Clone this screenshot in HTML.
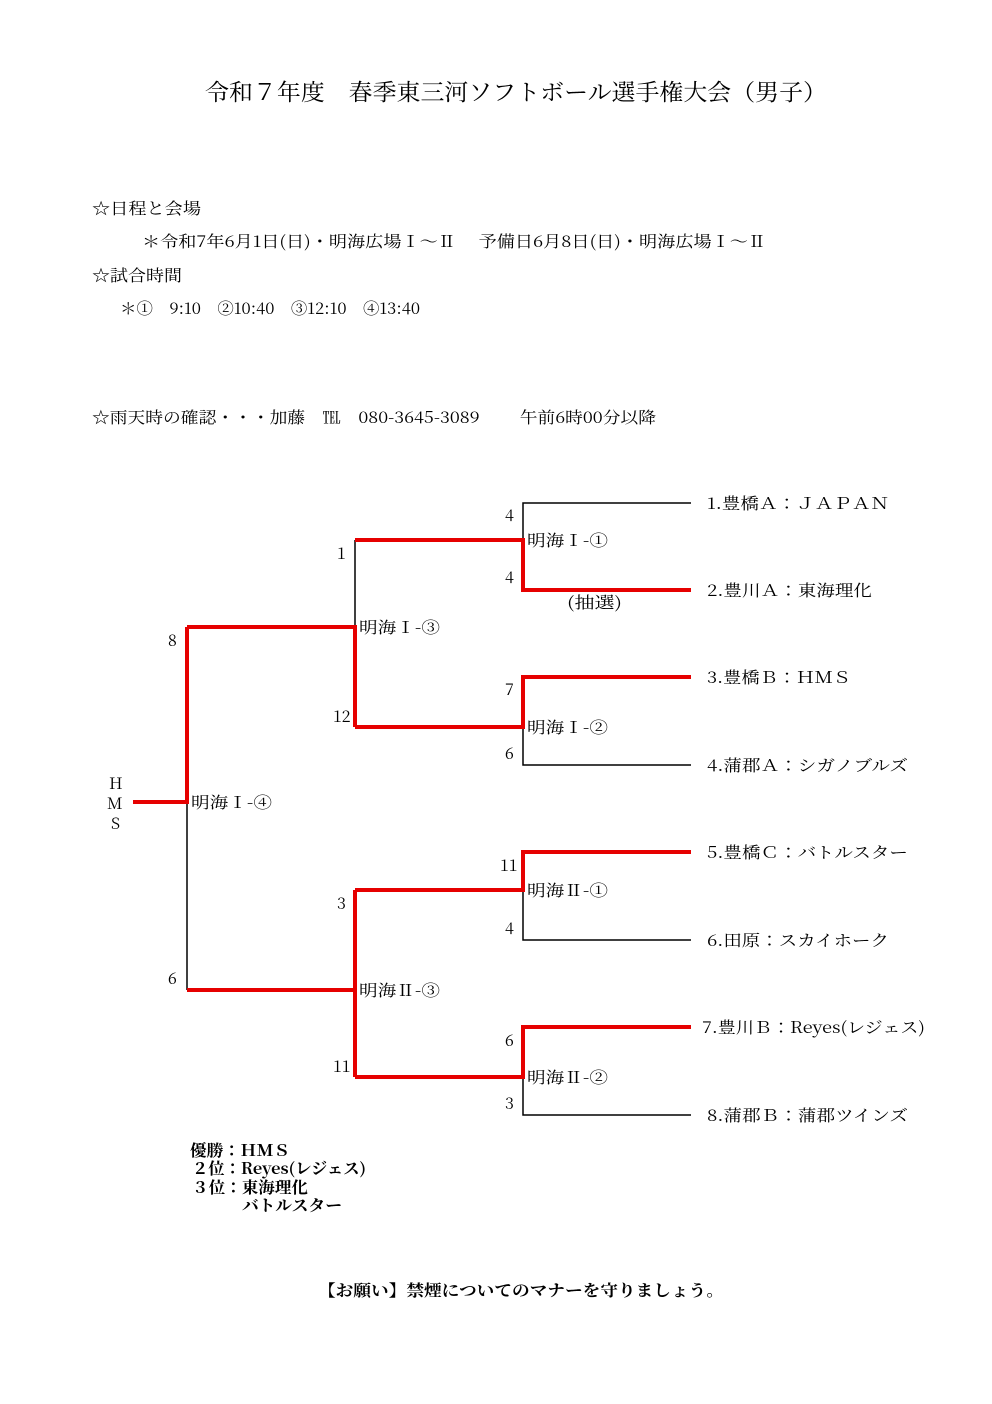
<!DOCTYPE html>
<html><head><meta charset="utf-8"><style>
body{margin:0;background:#fff}
svg{display:block}
text{font-family:"Noto Serif CJK JP","Liberation Serif",serif;fill:#000}
</style></head><body>
<svg width="992" height="1404" viewBox="0 0 992 1404" xmlns="http://www.w3.org/2000/svg">
<text x="205" y="100" font-size="23" textLength="622" lengthAdjust="spacingAndGlyphs">令和７年度　春季東三河ソフトボール選手権大会（男子）</text>
<g font-size="16">
<text x="92" y="214" textLength="109" lengthAdjust="spacingAndGlyphs">☆日程と会場</text>
<text x="142" y="247" textLength="624" lengthAdjust="spacingAndGlyphs">＊令和7年6月1日(日)・明海広場Ⅰ～Ⅱ　 予備日6月8日(日)・明海広場Ⅰ～Ⅱ</text>
<text x="92" y="281" textLength="90" lengthAdjust="spacingAndGlyphs">☆試合時間</text>
<text x="120" y="314" textLength="300" lengthAdjust="spacingAndGlyphs">＊①　9:10　②10:40　③12:10　④13:40</text>
<text x="92" y="423" textLength="564" lengthAdjust="spacingAndGlyphs">☆雨天時の確認・・・加藤　℡　080-3645-3089　　 午前6時00分以降</text>
</g>
<g fill="none" stroke="#000" stroke-width="1.5">
<path d="M691 503H523V540"/>
<path d="M523 727V765H691"/>
<path d="M523 890V940H691"/>
<path d="M523 1077V1115H691"/>
<path d="M355 540V627"/>
<path d="M187 802V990"/>
</g>
<g fill="none" stroke="#e60000" stroke-width="4">
<path d="M691 590H523V540H355"/>
<path d="M691 677H523V727H355"/>
<path d="M691 852H523V890H355"/>
<path d="M691 1027H523V1077H355"/>
<path d="M187 627H355V727"/>
<path d="M355 890V1077"/>
<path d="M187 990H355"/>
<path d="M133 802H187V627"/>
</g>
<g font-size="16">
<text x="505" y="521">4</text><text x="505" y="583">4</text>
<text x="505" y="695">7</text><text x="505" y="759">6</text>
<text x="500" y="871">11</text><text x="505" y="934">4</text>
<text x="505" y="1046">6</text><text x="505" y="1109">3</text>
<text x="337" y="559">1</text><text x="333" y="722">12</text>
<text x="337" y="909">3</text><text x="333" y="1072">11</text>
<text x="168" y="646">8</text><text x="168" y="984">6</text>
<text x="109" y="789">H</text><text x="107" y="809">M</text><text x="111" y="829">S</text>
<text x="527" y="546" textLength="81" lengthAdjust="spacingAndGlyphs">明海Ⅰ-①</text>
<text x="527" y="733" textLength="81" lengthAdjust="spacingAndGlyphs">明海Ⅰ-②</text>
<text x="527" y="896" textLength="81" lengthAdjust="spacingAndGlyphs">明海Ⅱ-①</text>
<text x="527" y="1083" textLength="81" lengthAdjust="spacingAndGlyphs">明海Ⅱ-②</text>
<text x="359" y="633" textLength="81" lengthAdjust="spacingAndGlyphs">明海Ⅰ-③</text>
<text x="359" y="996" textLength="81" lengthAdjust="spacingAndGlyphs">明海Ⅱ-③</text>
<text x="191" y="808" textLength="81" lengthAdjust="spacingAndGlyphs">明海Ⅰ-④</text>
<text x="567" y="608" textLength="55" lengthAdjust="spacingAndGlyphs">(抽選)</text>
<text x="707" y="509" textLength="182" lengthAdjust="spacingAndGlyphs">1.豊橋Ａ：ＪＡＰＡＮ</text>
<text x="707" y="596" textLength="165" lengthAdjust="spacingAndGlyphs">2.豊川Ａ：東海理化</text>
<text x="707" y="683" textLength="144" lengthAdjust="spacingAndGlyphs">3.豊橋Ｂ：ＨＭＳ</text>
<text x="707" y="771" textLength="201" lengthAdjust="spacingAndGlyphs">4.蒲郡Ａ：シガノブルズ</text>
<text x="707" y="858" textLength="201" lengthAdjust="spacingAndGlyphs">5.豊橋Ｃ：バトルスター</text>
<text x="707" y="946" textLength="182" lengthAdjust="spacingAndGlyphs">6.田原：スカイホーク</text>
<text x="702" y="1033" textLength="223" lengthAdjust="spacingAndGlyphs">7.豊川Ｂ：Reyes(レジェス)</text>
<text x="707" y="1121" textLength="201" lengthAdjust="spacingAndGlyphs">8.蒲郡Ｂ：蒲郡ツインズ</text>
<g font-weight="bold">
<text x="190" y="1156" textLength="100" lengthAdjust="spacingAndGlyphs">優勝：ＨＭＳ</text>
<text x="192" y="1174" textLength="174" lengthAdjust="spacingAndGlyphs">２位：Reyes(レジェス)</text>
<text x="192" y="1193" textLength="116" lengthAdjust="spacingAndGlyphs">３位：東海理化</text>
<text x="242" y="1211" textLength="100" lengthAdjust="spacingAndGlyphs">バトルスター</text>
<text x="318" y="1296" textLength="406" lengthAdjust="spacingAndGlyphs">【お願い】禁煙についてのマナーを守りましょう。</text>
</g>
</g>
</svg>
</body></html>
